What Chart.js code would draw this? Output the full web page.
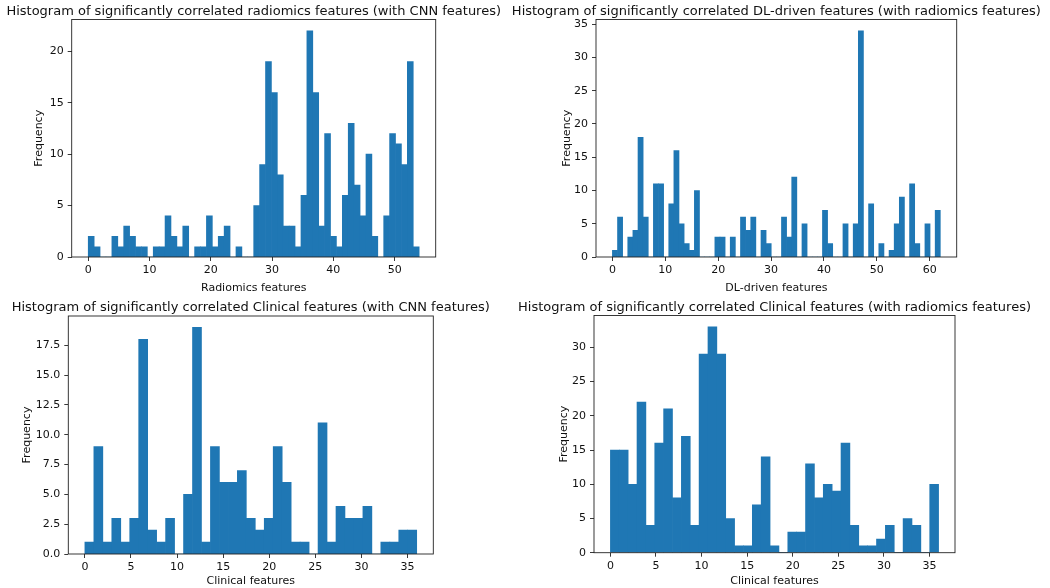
<!DOCTYPE html>
<html><head><meta charset="utf-8">
<script src="https://cdn.jsdelivr.net/npm/chart.js@4.4.1/dist/chart.umd.min.js"></script>
<style>
html,body{margin:0;padding:0;background:#fff;}
body{width:1050px;height:588px;position:relative;overflow:hidden;}
canvas{position:absolute;}
</style></head><body>
<canvas id="c1"></canvas>
<canvas id="c2"></canvas>
<canvas id="c3"></canvas>
<canvas id="c4"></canvas>
<script>
// ---- Data (histogram bin counts) ----
const radiomicsCounts = [2,1,0,0,2,1,3,2,1,1,0,1,1,4,2,1,3,0,1,1,4,1,2,3,0,1,0,0,5,9,19,16,8,3,3,1,6,22,16,3,12,2,1,6,13,7,4,10,2,0,4,12,11,9,19,1];
const radiomicsRange = [0, 54];
const dlCounts = [1,6,0,3,4,18,6,0,11,11,0,8,16,5,2,1,10,0,0,0,3,3,0,3,0,6,4,6,0,4,2,0,0,6,3,12,0,5,0,0,0,7,2,0,0,5,0,5,34,0,8,0,2,0,1,5,9,0,11,2,0,5,0,7];
const dlRange = [0, 62];
const clinicalCnnCounts = [1,9,1,3,1,3,18,2,1,3,0,5,19,1,9,6,6,7,3,2,3,9,6,1,1,0,11,1,4,3,3,4,0,1,1,2,2];
const clinicalCnnRange = [0, 36];
const clinicalRadCounts = [15,15,10,22,4,16,21,8,17,4,29,33,29,5,1,1,7,14,1,0,3,3,13,8,10,9,16,4,1,1,2,4,0,5,4,0,10];
const clinicalRadRange = [0, 36];

const titles = [
  "Histogram of significantly correlated radiomics features (with CNN features)",
  "Histogram of significantly correlated DL-driven features (with radiomics features)",
  "Histogram of significantly correlated Clinical features (with CNN features)",
  "Histogram of significantly correlated Clinical features (with radiomics features)"
];
const xLabels = ["Radiomics features", "DL-driven features", "Clinical features", "Clinical features"];
const yLabel = "Frequency";
const xSteps = [10, 10, 5, 5];
const ySteps = [5, 5, 2.5, 5];
const yDecimals = [0, 0, 1, 0];

// ---- Rendering ----
const FONT = '"DejaVu Sans", sans-serif';
const BAR = '#1f77b4';
const TEXT = '#111';

const framePlugin = {
  id: 'frame',
  afterDraw(chart, args, o) {
    const {ctx, chartArea: a} = chart;
    ctx.save();
    ctx.strokeStyle = '#222';
    ctx.lineWidth = 0.9;
    ctx.strokeRect(a.left, a.top, a.right - a.left, a.bottom - a.top);
    ctx.fillStyle = TEXT;
    ctx.font = o.titleSize + 'px ' + FONT;
    ctx.textAlign = 'center';
    ctx.textBaseline = 'alphabetic';
    ctx.fillText(o.text, (a.left + a.right) / 2, a.top - o.offset);
    ctx.restore();
  }
};

function makeHist(id, g, counts, range, k) {
  const cv = document.getElementById(id);
  cv.width = g.w; cv.height = g.h;
  cv.style.left = g.x + 'px'; cv.style.top = g.y + 'px';
  cv.style.width = g.w + 'px'; cv.style.height = g.h + 'px';
  const n = counts.length;
  const bw = (range[1] - range[0]) / n;
  const pts = counts.map((c, i) => ({x: range[0] + (i + 0.5) * bw, y: c}));
  const span = range[1] - range[0];
  const ymax = Math.max(...counts) * 1.05;
  const lh = 11 * 1.2;
  new Chart(cv, {
    type: 'bar',
    data: { datasets: [{ data: pts, backgroundColor: BAR, borderWidth: 0,
      categoryPercentage: 1.0, barPercentage: 1.0 }] },
    plugins: [framePlugin],
    options: {
      responsive: false, animation: false,
      layout: { padding: { top: g.pt - g.y, right: g.x + g.w - g.pr, left: 0, bottom: 0 } },
      plugins: { legend: {display: false}, tooltip: {enabled: false}, title: {display: false},
        frame: { text: titles[k], offset: 5, titleSize: 13 } },
      scales: {
        x: {
          type: 'linear', offset: false,
          min: range[0] - 0.05 * span, max: range[1] + 0.05 * span,
          afterFit: (s) => { s.height = g.y + g.h - g.pb; },
          grid: { display: true, drawOnChartArea: false, drawTicks: true, tickLength: 4,
            color: '#222', tickColor: '#222', lineWidth: 0.9, offset: false },
          border: { display: false },
          ticks: { stepSize: xSteps[k], includeBounds: false, autoSkip: false, maxRotation: 0,
            color: TEXT, font: { family: FONT, size: 11 }, padding: 3,
            callback: (v) => String(v) },
          title: { display: true, text: xLabels[k], color: TEXT, font: { family: FONT, size: 11 },
            padding: { top: Math.max(0, (g.y + g.h - g.xt) - lh / 2), bottom: 0 } }
        },
        y: {
          type: 'linear', min: 0, max: ymax,
          afterFit: (s) => { s.width = g.pl - g.x; },
          grid: { display: true, drawOnChartArea: false, drawTicks: true, tickLength: 4,
            color: '#222', tickColor: '#222', lineWidth: 0.9 },
          border: { display: false },
          ticks: { stepSize: ySteps[k], includeBounds: false, autoSkip: false,
            color: TEXT, font: { family: FONT, size: 11 }, padding: 4,
            callback: (v) => v.toFixed(yDecimals[k]) },
          title: { display: true, text: yLabel, color: TEXT, font: { family: FONT, size: 11 },
            padding: { top: Math.max(0, (g.yt - g.x) - lh / 2), bottom: 0 } }
        }
      }
    }
  });
}

makeHist('c1', {x: 0, y: 0, w: 515, h: 295, pl: 71.7, pt: 19.5, pr: 435.7, pb: 257, xt: 285, yt: 39},
  radiomicsCounts, radiomicsRange, 0);
makeHist('c2', {x: 505, y: 0, w: 545, h: 295, pl: 596, pt: 19.5, pr: 956.7, pb: 257, xt: 285, yt: 566.7},
  dlCounts, dlRange, 1);
makeHist('c3', {x: 0, y: 295, w: 515, h: 293, pl: 68.3, pt: 316, pr: 433.3, pb: 554, xt: 581.7, yt: 26.7},
  clinicalCnnCounts, clinicalCnnRange, 2);
makeHist('c4', {x: 505, y: 295, w: 545, h: 293, pl: 594, pt: 315.5, pr: 955, pb: 552.7, xt: 580, yt: 564.3},
  clinicalRadCounts, clinicalRadRange, 3);
</script>
</body></html>
